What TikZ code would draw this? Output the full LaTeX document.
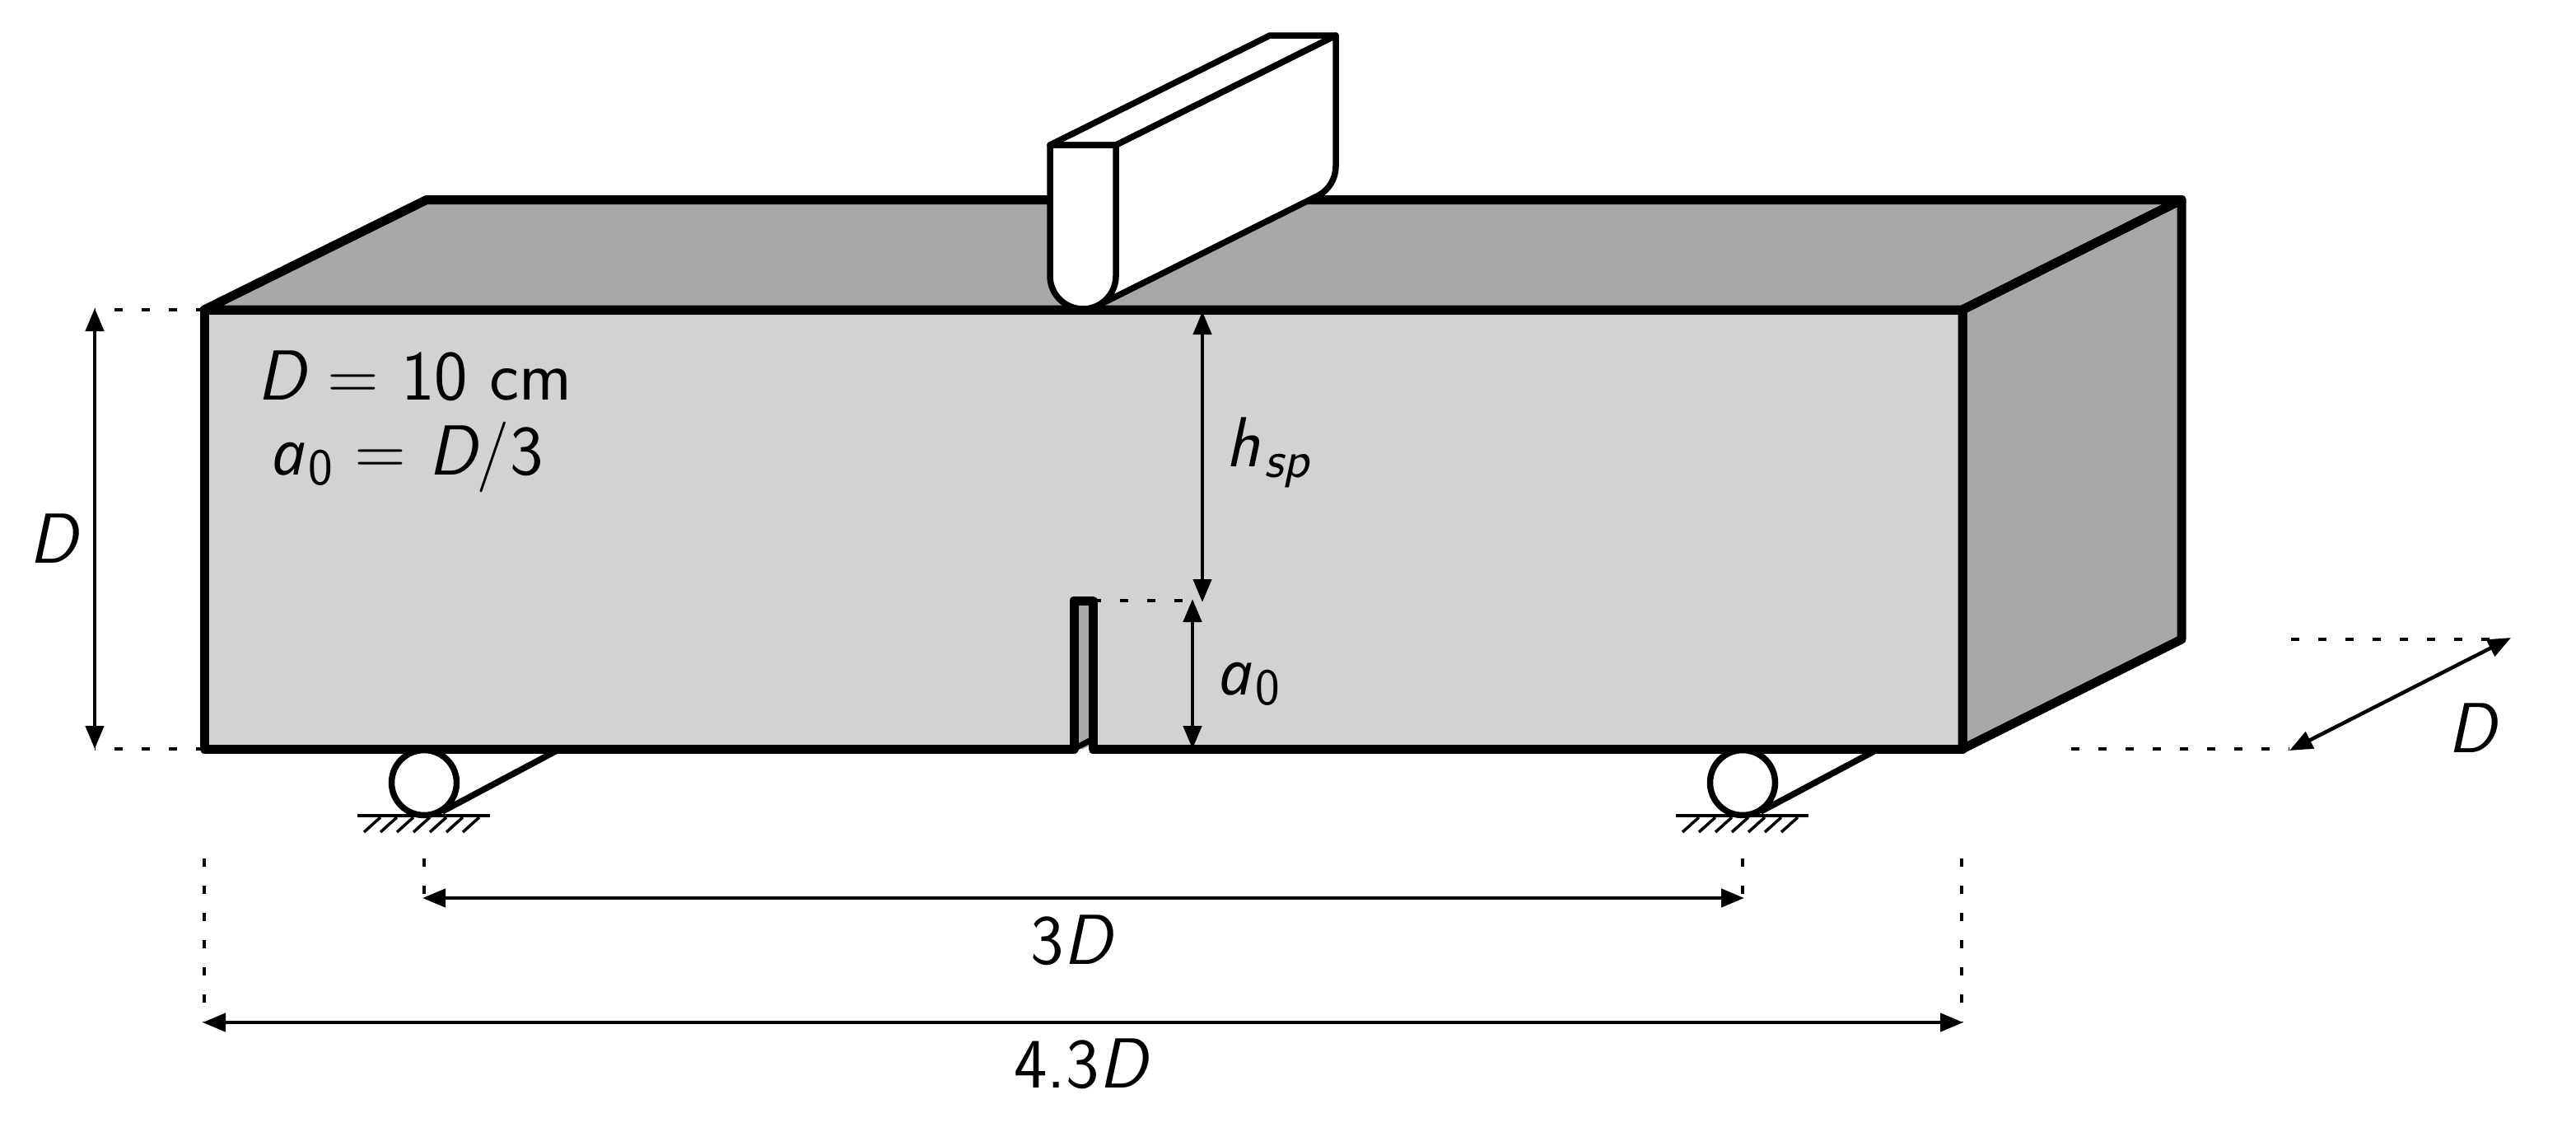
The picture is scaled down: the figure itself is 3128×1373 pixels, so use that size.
\documentclass[tikz,border=0pt]{standalone}
\usepackage{fontspec}
\usetikzlibrary{arrows.meta}
\newfontfamily\letterfont{Noto Sans}
\newcommand{\vD}{{\sffamily\itshape D}}
\newcommand{\va}{{\fontsize{72}{80}\selectfont\letterfont\itshape a}}
\newcommand{\subz}[1]{\hspace{3pt}\raisebox{-12pt}{\fontsize{63}{66}\selectfont\sffamily #1}}
\definecolor{frontgray}{HTML}{D2D2D2}
\definecolor{darkgray2}{HTML}{A8A8A8}
\tikzset{
  x=1pt,y=-1pt,
  thick edge/.style={line width=11pt,line join=round,line cap=butt},
  knife/.style={line width=7.5pt,line join=round,fill=white},
  dim/.style={line width=4.5pt,{Triangle[length=28pt,width=22pt]}-{Triangle[length=28pt,width=22pt]}},
  dotline/.style={line width=4.5pt,dash pattern=on 10pt off 23pt},
  lab/.style={inner sep=0pt,anchor=base west,font=\fontsize{86}{98}\selectfont\sffamily},
}
\begin{document}
\begin{tikzpicture}
\useasboundingbox (0,0) rectangle (3128,1373);
% box corners
\coordinate (FTL) at (248,376);
\coordinate (FTR) at (2383,376);
\coordinate (FBR) at (2383,909);
\coordinate (FBL) at (248,909);
\coordinate (BTL) at (518,242.5);
\coordinate (BTR) at (2649,242.5);
\coordinate (BBR) at (2649,776);
\coordinate (NBL) at (1304,909);
\coordinate (NTL) at (1304,729);
\coordinate (NTR) at (1327,729);
\coordinate (NBR) at (1327,909);
% faces
\fill[darkgray2] (FTL)--(BTL)--(BTR)--(FTR)--cycle;
\fill[darkgray2] (FTR)--(BTR)--(BBR)--(FBR)--cycle;
\fill[frontgray] (FTL)--(FTR)--(FBR)--(FBL)--cycle;
% notch
\fill[darkgray2] (NBL)--(NTL)--(NTR)--(NBR)--cycle;
\fill[white] (1304,915)--(1327,903)--(1327,915)--cycle;
\draw[line width=7pt] (1304,909)--(1327,897);
\draw[thick edge] (FTL)--(BTL)--(BTR)--(FTR)--cycle;
\draw[thick edge] (FTR)--(BTR)--(BBR)--(FBR)--cycle;
\draw[thick edge] (NBL)--(FBL)--(FTL)--(FTR)--(FBR)--(NBR)--(NTR)--(NTL)--cycle;
% knife
\filldraw[knife] (1355,176)--(1622,43)--(1622,202) arc (0:63.4:40)--(1333,371)--(1355,335)--cycle;
\filldraw[knife] (1275,176)--(1542,43)--(1622,43)--(1355,176)--cycle;
\filldraw[knife] (1275,176)--(1355,176)--(1355,335) arc (0:180:40)--cycle;
% rollers
\foreach \dx/\n in {0/a,1601/b}{
  \begin{scope}[xshift=\dx pt]
  \draw[line width=7.5pt] (537,985)--(680,909);
  \filldraw[line width=7.5pt,fill=white] (515,950) circle (39.5);
  \draw[line width=4pt] (434,990)--(595,990);
  \foreach \h in {0,...,6}
    \draw[line width=3.5pt] (442+\h*20,1010)--(462+\h*20,992);
  \end{scope}
}
% dimension anchors
\coordinate (Dt) at (115,374); \coordinate (Db) at (115,909);
\coordinate (Ht) at (1460,378); \coordinate (Hb) at (1460,731);
\coordinate (At) at (1448,727); \coordinate (Ab) at (1448,909);
\coordinate (Sl) at (513,1090); \coordinate (Sr) at (2118,1090);
\coordinate (Ll) at (246,1241); \coordinate (Lr) at (2384,1241);
\coordinate (Ka) at (2780,911); \coordinate (Kb) at (3049,774);
% dotted guides
\draw[dotline] (FTL)--(115,376);
\draw[dotline] (FBL)--(Db);
\draw[dotline] (NTR)--(1448,729);
\draw[dotline] (515,1042)--(515,1090);
\draw[dotline] (2116,1042)--(2116,1090);
\draw[dotline] (248,1042)--(248,1241);
\draw[dotline] (2382,1042)--(2382,1241);
\draw[dotline] (2515,909)--(2780,909);
\draw[dotline] (2782,776)--(3045,776);
% dimensions
\draw[dim] (Dt)--(Db);
\draw[dim] (Ht)--(Hb);
\draw[dim] (At)--(Ab);
\draw[dim] (Sl)--(Sr);
\draw[dim] (Ll)--(Lr);
\draw[dim] (Ka)--(Kb);
% labels
\node[lab] (t1) at (312,485) {\vD\ = 10 cm};
\node[lab] (t2) at (330,576) {\va\subz{0} = \vD/3};
\node[lab] (t3) at (35,683) {\vD};
\node[lab] (t4) at (1480,843) {\va\subz{0}};
\node[lab] (t5) at (1488,566) {{\sffamily\itshape h}\hspace{6pt}\raisebox{-13pt}{\fontsize{64}{66}\selectfont\sffamily\itshape sp}};
\node[lab] (t6) at (1251,1170) {3\vD};
\node[lab] (t7) at (1231,1320) {4.3\vD};
\node[lab] (t8) at (2972,913) {\vD};
\end{tikzpicture}
\end{document}
